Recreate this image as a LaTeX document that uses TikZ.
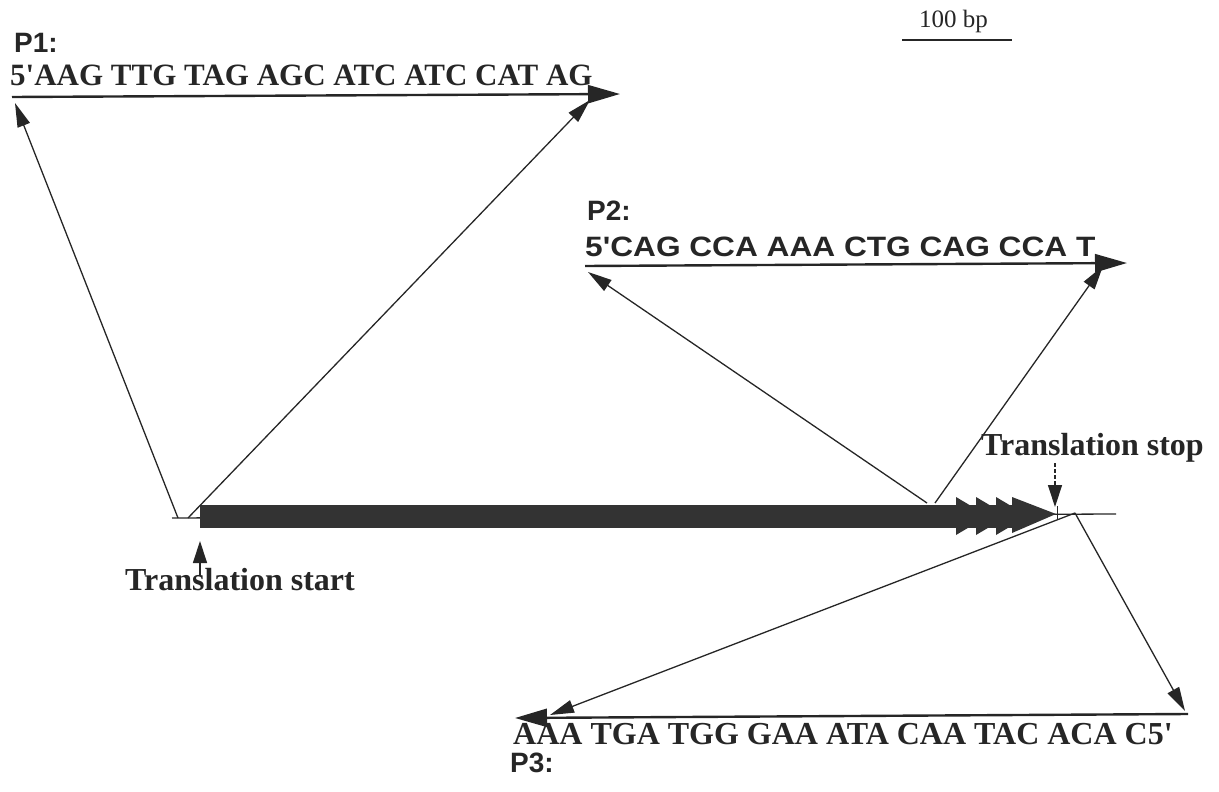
\documentclass[tikz,border=0pt]{standalone}
\usepackage{fontspec}
\setmainfont{Liberation Serif}
\newfontfamily\labsans{Liberation Sans}
\usetikzlibrary{arrows.meta}
\definecolor{inkdark}{HTML}{262626}
\definecolor{genebar}{HTML}{333333}

\begin{document}
\begin{tikzpicture}[
    x=1pt,y=-1pt,
    seq/.style={font=\fontsize{31}{31}\selectfont\bfseries, text=inkdark, anchor=base west, inner sep=0pt},
    plabel/.style={font=\labsans\fontsize{28}{28}\selectfont\bfseries, text=inkdark, anchor=base west, inner sep=0pt},
    tlabel/.style={font=\fontsize{32}{32}\selectfont\bfseries, text=inkdark, anchor=base west, inner sep=0pt},
    primer/.style={draw=inkdark, line width=2.4pt, -{Triangle[length=32pt,width=18pt]}},
    guide/.style={draw=inkdark, line width=1.3pt, -{Triangle[length=24pt,width=13pt]}},
    marker/.style={draw=inkdark, line width=1.3pt, -{Triangle[length=22pt,width=14pt]}}
  ]
    \useasboundingbox (0,0) rectangle (1219,792);

    % scale bar
    \node[font=\fontsize{25}{25}\selectfont, text=inkdark, anchor=base west, inner sep=0pt] (scale) at (919,28) {100 bp};
    \coordinate (scaleL) at (902,40);
    \coordinate (scaleR) at (1012,40);
    \draw[inkdark, line width=1.5pt] (scaleL) -- (scaleR);

    % primer P1
    \node[plabel] (p1lab) at (14,53) {P1:};
    \node[seq] (p1seq) at (10,85) {5\textquotesingle AAG TTG TAG AGC ATC ATC CAT AG};
    \coordinate (p1a) at (12,97);
    \coordinate (p1b) at (620,94);
    \draw[primer] (p1a) -- (p1b);

    % primer P2
    \node[plabel] (p2lab) at (587,220) {P2:};
    \node[plabel] (p2seq) at (585,256) {\scalebox{1.13}[1]{5\textquotesingle CAG CCA AAA CTG CAG CCA T}};
    \coordinate (p2a) at (585,266);
    \coordinate (p2b) at (1127,263);
    \draw[primer] (p2a) -- (p2b);

    % primer P3
    \node[seq, font=\fontsize{32}{32}\selectfont\bfseries] (p3seq) at (513,744) {AAA TGA TGG GAA ATA CAA TAC ACA C5\textquotesingle};
    \node[plabel] (p3lab) at (510,772) {P3:};
    \coordinate (p3a) at (1188,714);
    \coordinate (p3b) at (515,718);
    \draw[primer] (p3a) -- (p3b);

    % gene
    \coordinate (geneL) at (172,518);
    \coordinate (geneR) at (1116,514);
    \draw[inkdark, line width=1.3pt] (geneL) -- (geneR);
    \fill[genebar] (200,505) rectangle (1014,528);
    \foreach \x in {956,976,996}
      \fill[genebar] (\x,497) -- (\x+32,516) -- (\x,535) -- cycle;
    \fill[genebar] (1012,497) -- (1056,514) -- (1012,533) -- cycle;
    \draw[inkdark, line width=1pt] (1057,506) -- (1057,520);

    % primer sites
    \coordinate (s1a) at (178,518);
    \coordinate (s1b) at (188,518);
    \coordinate (s2a) at (927,503);
    \coordinate (s2b) at (935,503);
    \coordinate (s3) at (1075,513);
    \draw[guide] (s1a) -- (15,103);
    \draw[guide] (s1b) -- (590,100);
    \draw[guide] (s2a) -- (588,272);
    \draw[guide] (s2b) -- (1103,266);
    \draw[guide] (s3) -- (550,715);
    \draw[guide] (s3) -- (1185,711);

    % translation start / stop
    \node[tlabel] (tstart) at (125,590) {Translation start};
    \node[tlabel] (tstop) at (981,455) {Translation stop};
    \coordinate (startfoot) at (200,576);
    \coordinate (starttip) at (200,541);
    \draw[marker] (startfoot) -- (starttip);
    \coordinate (stophead) at (1055,463);
    \coordinate (stoptip) at (1055,507);
    \draw[marker, dash pattern=on 4pt off 2pt] (stophead) -- (stoptip);
  \end{tikzpicture}
\end{document}
